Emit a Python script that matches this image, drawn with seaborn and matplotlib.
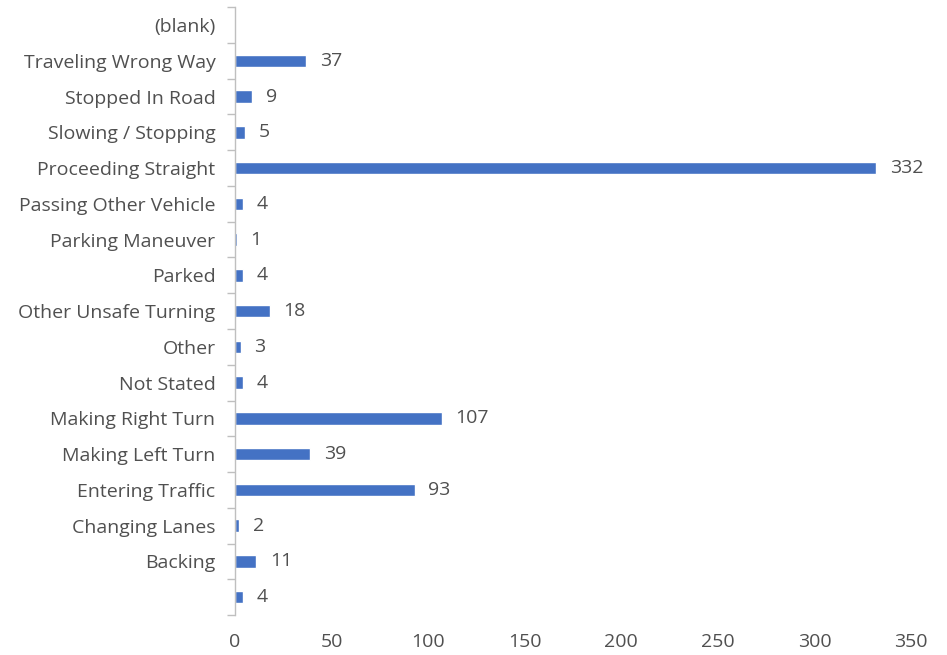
import matplotlib
matplotlib.use("Agg")
import matplotlib.pyplot as plt
import seaborn as sns
import pandas as pd
import numpy as np

categories = ["(blank)", "Traveling Wrong Way", "Stopped In Road", "Slowing / Stopping",
              "Proceeding Straight", "Passing Other Vehicle", "Parking Maneuver", "Parked",
              "Other Unsafe Turning", "Other", "Not Stated", "Making Right Turn",
              "Making Left Turn", "Entering Traffic", "Changing Lanes", "Backing", " "]
counts = [0, 37, 9, 5, 332, 4, 1, 4, 18, 3, 4, 107, 39, 93, 2, 11, 4]
value_labels = ["", "37", "9", "5", "332", "4", "1", "4", "18", "3", "4", "107", "39", "93", "2", "11", "4"]
x_ticks = [0, 50, 100, 150, 200, 250, 300, 350]

sns.set_theme(style="white")
plt.rcParams['font.family'] = ['Open Sans', 'DejaVu Sans']

df = pd.DataFrame({"cat": categories, "count": counts})

fig = plt.figure(figsize=(9.47, 6.55), dpi=100)
ax = fig.add_axes([0.248, 0.061, 0.714, 0.928])

sns.barplot(data=df, y="cat", x="count", orient="h", color="#4472C4",
            saturation=1, width=0.35, ax=ax, order=categories)

txt = "#505050"
fs = 14
for cont in ax.containers:
    ax.bar_label(cont, labels=value_labels, padding=10, fontsize=fs, color=txt)

ax.set_xlim(0, 350)
ax.set_ylim(len(categories) - 0.5, -0.5)
ax.set_xticks(x_ticks)
ax.set_xticklabels([str(v) for v in x_ticks], fontsize=fs, color=txt)
ax.tick_params(axis="x", length=0, pad=13)
ax.tick_params(axis="y", which="major", length=0, pad=14, labelsize=fs, labelcolor=txt)
ax.set_yticks(np.arange(-0.5, len(categories), 1), minor=True)
ax.tick_params(axis="y", which="minor", left=True, length=6, width=1, color="#BFBFBF", direction="out")
ax.set_xlabel("")
ax.set_ylabel("")
for s in ["top", "right", "bottom"]:
    ax.spines[s].set_visible(False)
ax.spines["left"].set_color("#BFBFBF")
ax.spines["left"].set_linewidth(1)
ax.grid(False)

fig.savefig("out.png", dpi=100)
